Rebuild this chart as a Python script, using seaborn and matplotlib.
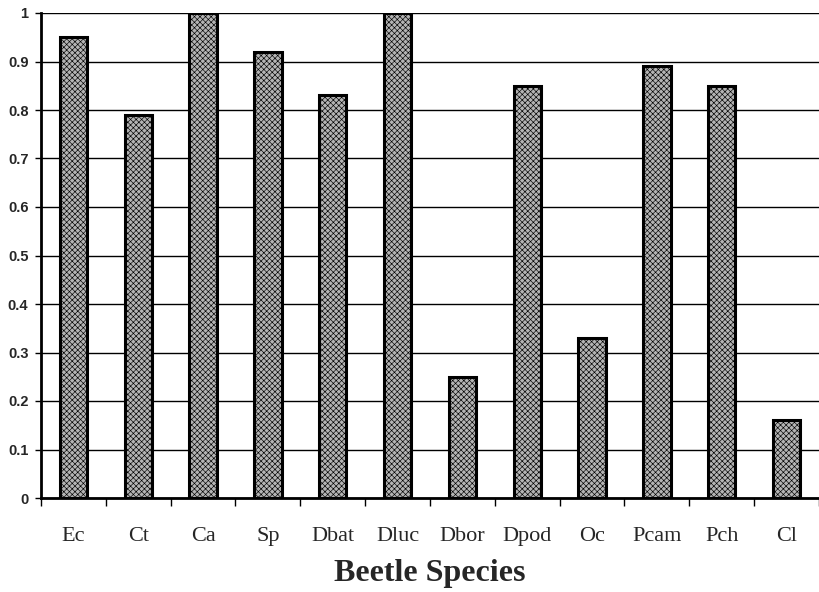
import pandas as pd
import numpy as np
from matplotlib import pyplot as plt
import seaborn as sns

species = ['Ec', 'Ct', 'Ca', 'Sp', 'Dbat', 'Dluc', 'Dbor', 'Dpod', 'Oc', 'Pcam', 'Pch', 'Cl']
values = [0.95, 0.79, 1.0, 0.92, 0.83, 1.0, 0.25, 0.85, 0.33, 0.89, 0.85, 0.16]

sns.set_style('white')
plt.rcParams['hatch.linewidth'] = 0.45
plt.rcParams['hatch.color'] = '#404040'

df = pd.DataFrame({'species': species, 'value': values})

fig = plt.figure(figsize=(8.19, 5.92), dpi=100)
ax = fig.add_axes([41 / 819, 1 - 498 / 592, 1 - 41 / 819, (498 - 13) / 592])
sns.barplot(data=df, x='species', y='value', order=species, color='#b4b4b4',
            width=0.42, ax=ax, saturation=1)
for p in ax.patches:
    p.set_edgecolor('black')
    p.set_linewidth(2.2)
    p.set_hatch('xxxxxx')
    p.set_zorder(3)

ax.set_ylim(0, 1)
ax.set_xlim(-0.5, 11.43)
ax.set_yticks(np.arange(0, 1.01, 0.1))
ax.set_yticklabels(['0'] + [f'{v:.1f}' for v in np.arange(0.1, 0.95, 0.1)] + ['1'],
                   fontfamily='Liberation Sans', fontweight='bold', fontsize=10.5)
ax.yaxis.grid(True, color='black', linewidth=1)
ax.set_axisbelow(True)
ax.tick_params(axis='y', length=4, width=1, color='black', pad=5, left=True)
ax.tick_params(axis='x', which='major', length=0, pad=21)
ax.set_xticks(np.arange(-0.5, 12, 1), minor=True)
ax.tick_params(axis='x', which='minor', length=6, width=1, color='black', bottom=True)
for lab in ax.get_xticklabels():
    lab.set_fontfamily('Liberation Serif')
    lab.set_fontsize(16)
ax.set_xlabel('Beetle Species', fontfamily='Liberation Serif', fontweight='bold', fontsize=23, labelpad=9)
ax.set_ylabel('')
for s in ['top', 'right']:
    ax.spines[s].set_visible(False)
for s in ['left', 'bottom']:
    ax.spines[s].set_color('black')
    ax.spines[s].set_linewidth(2)

fig.savefig('out.png', dpi=100)
